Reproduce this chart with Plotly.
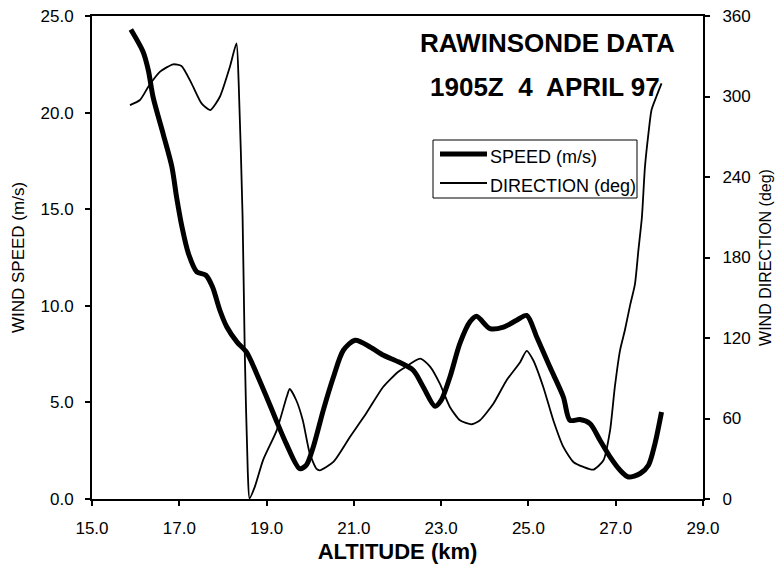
import plotly.graph_objects as go

# Rawinsonde profile: altitude (km) vs wind speed (m/s) and wind direction (deg)
alt_speed = [15.89, 16.17, 16.29, 16.40, 16.63, 16.83, 16.94, 17.06, 17.21, 17.40,
             17.61, 17.76, 17.93, 18.09, 18.32, 18.54, 18.77, 19.00, 19.22, 19.45,
             19.76, 19.91, 20.07, 20.30, 20.53, 20.76, 21.03, 21.37, 21.68, 22.02,
             22.36, 22.59, 22.86, 23.00, 23.20, 23.43, 23.66, 23.81, 24.12, 24.43,
             24.73, 24.96, 25.19, 25.49, 25.80, 25.95, 26.18, 26.41, 26.64, 26.87,
             27.10, 27.29, 27.56, 27.75, 27.90, 28.05]
speed = [24.3, 23.15, 22.2, 20.8, 18.9, 17.2, 15.6, 14.1, 12.7, 11.76,
         11.58, 10.98, 9.77, 8.9, 8.13, 7.6, 6.5, 5.28, 4.08, 2.87,
         1.57, 1.75, 2.69, 4.6, 6.3, 7.7, 8.22, 7.87, 7.44, 7.1,
         6.66, 5.8, 4.8, 5.1, 6.3, 8.05, 9.17, 9.46, 8.82, 8.9,
         9.25, 9.5, 8.39, 6.84, 5.28, 4.08, 4.11, 3.9, 3.04, 2.18,
         1.49, 1.14, 1.32, 1.75, 2.87, 4.5]

alt_dir = [15.87, 16.10, 16.29, 16.56, 16.86, 17.05, 17.28, 17.51, 17.71, 17.93,
           18.16, 18.31, 18.36, 18.45, 18.50, 18.57, 18.61, 18.73, 18.92, 19.23,
           19.46, 19.53, 19.68, 19.83, 19.99, 20.14, 20.22, 20.53, 20.91, 21.28,
           21.67, 22.01, 22.13, 22.52, 22.75, 22.97, 23.20, 23.43, 23.70, 23.89,
           24.20, 24.50, 24.81, 24.96, 25.11, 25.34, 25.57, 25.80, 26.03, 26.26,
           26.49, 26.72, 26.87, 26.98, 27.10, 27.21, 27.33, 27.44, 27.52, 27.60,
           27.67, 27.75, 27.82, 27.93, 28.05]
direction = [293.6, 297.4, 307.3, 318.5, 324.0, 322.7, 309.8, 294.9, 289.9, 299.8,
             322.2, 339.6, 311.0, 211.0, 110.0, 20.0, 0.5, 9.0, 29.0, 51.0,
             76.0, 82.0, 73.6, 58.7, 33.9, 22.7, 21.4, 27.6, 46.2, 63.7,
             83.5, 94.7, 97.3, 104.7, 98.5, 86.0, 68.6, 58.7, 55.7, 58.7,
             71.2, 88.5, 102.0, 110.4, 103.4, 83.5, 58.7, 38.8, 27.6, 23.9,
             21.9, 28.9, 51.0, 83.5, 111.0, 125.8, 144.5, 160.0, 185.5, 210.0,
             247.6, 272.5, 290.0, 299.8, 309.8]

series_names = ["SPEED (m/s)", "DIRECTION (deg)"]
title_lines = ["RAWINSONDE DATA", "1905Z  4  APRIL 97"]

FONT = "Liberation Sans, Arial, Helvetica, sans-serif"
W_SPEED, W_DIR = 5, 1.8

# plot-area geometry in pixels
L, R, T, B = 92, 79, 16, 72
PW, PH = 782 - L - R, 571 - T - B


def px_x(p):
    return (p - L) / PW


def px_y(p):
    return (571 - B - p) / PH


fig = go.Figure()
fig.add_trace(go.Scatter(x=alt_speed, y=speed, mode="lines", name=series_names[0],
                         line=dict(color="black", width=W_SPEED, shape="spline", smoothing=0.8),
                         yaxis="y"))
fig.add_trace(go.Scatter(x=alt_dir, y=direction, mode="lines", name=series_names[1],
                         line=dict(color="black", width=W_DIR, shape="spline", smoothing=0.6),
                         yaxis="y2"))

tickfont = dict(family=FONT, size=17, color="black")
common = dict(showgrid=False, zeroline=False, automargin=False,
              tickcolor="black", tickwidth=1.5, ticklen=5)
fig.update_layout(
    width=782, height=571,
    margin=dict(l=L, r=R, t=T, b=B, autoexpand=False),
    paper_bgcolor="white", plot_bgcolor="white",
    showlegend=False,
    font=dict(family=FONT, color="black"),
    xaxis=dict(range=[15, 29], tick0=15, dtick=2, tickformat=".1f",
               showline=True, linecolor="black", linewidth=2, mirror=True,
               ticks="outside", tickfont=tickfont, ticklabelstandoff=8,
               title=dict(text="<b>ALTITUDE (km)</b>",
                          font=dict(family=FONT, size=22, color="black"), standoff=6),
               **common),
    xaxis2=dict(range=[15, 29], tick0=15, dtick=2, overlaying="x", anchor="y",
                side="bottom", showline=False, ticks="inside",
                showticklabels=False, **common),
    yaxis=dict(range=[0, 25], dtick=5, tickformat=".1f",
               showline=True, linecolor="black", linewidth=2,
               ticks="outside", tickfont=tickfont, ticklabelstandoff=8,
               title=dict(text="WIND SPEED (m/s)",
                          font=dict(family=FONT, size=17, color="black"), standoff=12),
               **common),
    yaxis2=dict(range=[0, 360], dtick=60, overlaying="y", side="right", anchor="x",
                showline=True, linecolor="black", linewidth=2,
                ticks="outside", tickfont=tickfont, ticklabelstandoff=9,
                title=dict(text="WIND DIRECTION (deg)",
                           font=dict(family=FONT, size=16, color="black"), standoff=10),
                **common),
    yaxis3=dict(range=[0, 360], dtick=60, overlaying="y", side="right", anchor="x",
                showline=False, ticks="inside", showticklabels=False, **common),
)

# Title block inside the plotting area
for text, cx, cy in [(title_lines[0], 547, 43), (title_lines[1], 545, 87)]:
    fig.add_annotation(x=px_x(cx), y=px_y(cy), xref="paper", yref="paper",
                       xanchor="center", yanchor="middle", text=f"<b>{text}</b>",
                       showarrow=False, font=dict(family=FONT, size=26, color="black"))

# Boxed key: sample lines and labels
fig.add_shape(type="rect", xref="paper", yref="paper",
              x0=px_x(433), x1=px_x(637), y0=px_y(198), y1=px_y(140),
              line=dict(color="black", width=1), fillcolor="white", layer="above")
for name, yy, w in [(series_names[0], 154, W_SPEED), (series_names[1], 183, W_DIR)]:
    fig.add_shape(type="line", xref="paper", yref="paper",
                  x0=px_x(440), x1=px_x(487), y0=px_y(yy), y1=px_y(yy),
                  line=dict(color="black", width=w), layer="above")
    fig.add_annotation(x=px_x(488), y=px_y(yy + 3), xref="paper", yref="paper",
                       xanchor="left", yanchor="middle", text=name, showarrow=False,
                       font=dict(family=FONT, size=18, color="black"))

fig.write_html("out.html")
